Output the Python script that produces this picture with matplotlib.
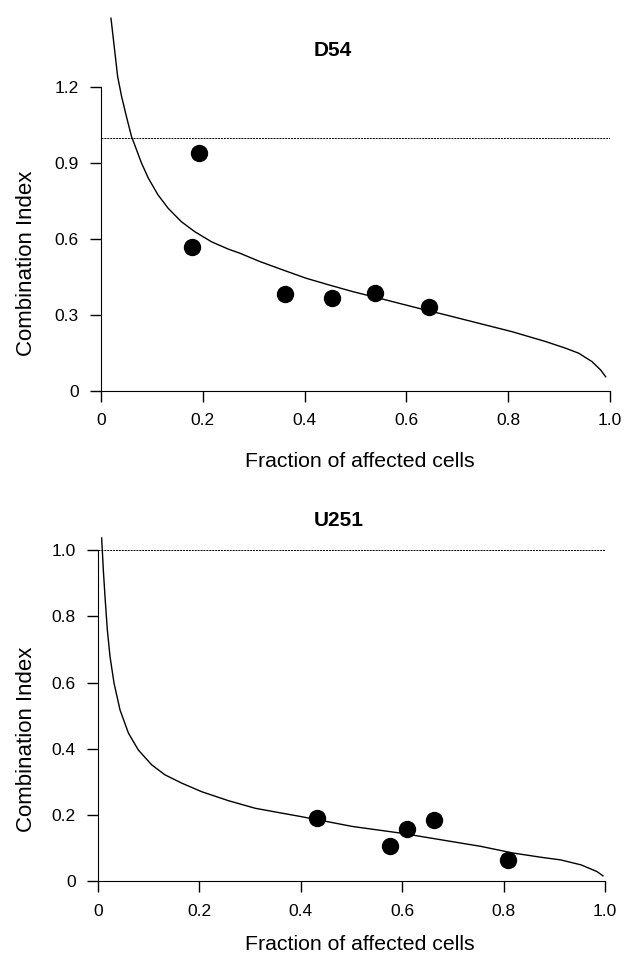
import numpy as np
import matplotlib.pyplot as plt

plt.rcParams['font.family'] = ['Liberation Sans', 'DejaVu Sans']

d54_fa = [0.192, 0.178, 0.361, 0.454, 0.539, 0.645]
d54_ci = [0.941, 0.567, 0.382, 0.366, 0.386, 0.333]
d54_curve_fa = [0.0196, 0.026, 0.0327, 0.0405, 0.050, 0.060, 0.070, 0.0797, 0.093,
                0.112, 0.132, 0.158, 0.184, 0.217, 0.250, 0.2725, 0.312, 0.357,
                0.403, 0.449, 0.495, 0.547, 0.625, 0.678, 0.743, 0.808, 0.874,
                0.913, 0.939, 0.965, 0.982, 0.992]
d54_curve_ci = [1.471, 1.359, 1.241, 1.162, 1.083, 1.004, 0.951, 0.899, 0.840,
                0.774, 0.721, 0.668, 0.629, 0.589, 0.560, 0.544, 0.511, 0.478,
                0.445, 0.418, 0.392, 0.366, 0.326, 0.300, 0.267, 0.234, 0.195,
                0.169, 0.149, 0.116, 0.083, 0.056]

# U251 panel
u251_fa = [0.432, 0.575, 0.609, 0.662, 0.809]
u251_ci = [0.191, 0.106, 0.158, 0.186, 0.065]
u251_curve_fa = [0.0072, 0.0105, 0.0138, 0.0184, 0.0237, 0.0316, 0.0434, 0.060,
                 0.0795, 0.106, 0.132, 0.165, 0.2045, 0.257, 0.310, 0.360, 0.400,
                 0.502, 0.597, 0.676, 0.755, 0.818, 0.874, 0.913, 0.953, 0.984,
                 0.996]
u251_curve_ci = [1.037, 0.941, 0.860, 0.760, 0.679, 0.599, 0.518, 0.448,
                 0.397, 0.352, 0.322, 0.297, 0.271, 0.244, 0.221, 0.207, 0.196,
                 0.166, 0.146, 0.126, 0.106, 0.086, 0.073, 0.065, 0.050, 0.030,
                 0.017]

x_ticks = [0, 0.2, 0.4, 0.6, 0.8, 1.0]
x_labels = ["0", "0.2", "0.4", "0.6", "0.8", "1.0"]
d54_yticks = [0, 0.3, 0.6, 0.9, 1.2]
d54_ylabels = ["0", "0.3", "0.6", "0.9", "1.2"]
u251_yticks = [0, 0.2, 0.4, 0.6, 0.8, 1.0]
u251_ylabels = ["0", "0.2", "0.4", "0.6", "0.8", "1.0"]

fig = plt.figure(figsize=(6.25, 9.55), dpi=100)
ax1 = fig.add_axes([0.1616, 0.5906, 0.814, 0.3927])
ax2 = fig.add_axes([0.1568, 0.077, 0.8112, 0.3607])


def style(ax, fa, ci, cfa, cci, yticks, ylabels, ytop, ylab_pos, xlab_pos):
    ax.plot([0, 1.0], [1.0, 1.0], color='black', lw=0.7, ls=(0, (2, 1)))
    ax.plot(cfa, cci, color='black', lw=1.0, clip_on=False)
    ax.plot(fa, ci, 'o', color='black', ms=11.5, clip_on=False)
    ax.set_xlim(0, 1.0)
    ax.set_ylim(0, ytop)
    ax.spines['top'].set_visible(False)
    ax.spines['right'].set_visible(False)
    ax.spines['left'].set_bounds(0, yticks[-1])
    ax.spines['bottom'].set_bounds(0, 1.0)
    ax.set_xticks(x_ticks)
    ax.set_xticklabels(x_labels)
    ax.set_yticks(yticks)
    ax.set_yticklabels(ylabels)
    ax.tick_params(direction='out', length=8, width=1, labelsize=12.5, pad=8)
    ax.set_ylabel("Combination Index", fontsize=16)
    ax.yaxis.set_label_coords(*ylab_pos)
    ax.set_xlabel("Fraction of affected cells", fontsize=15.3)
    ax.xaxis.set_label_coords(*xlab_pos)


style(ax1, d54_fa, d54_ci, d54_curve_fa, d54_curve_ci, d54_yticks, d54_ylabels,
      1.48, (-0.126, 0.341), (0.508, -0.163))
style(ax2, u251_fa, u251_ci, u251_curve_fa, u251_curve_ci, u251_yticks, u251_ylabels,
      1.04, (-0.121, 0.414), (0.517, -0.155))

fig.text(333 / 625, 1 - 50.5 / 955, "D54", ha='center', va='center',
         fontsize=15, fontweight='bold')
fig.text(339 / 625, 1 - 520 / 955, "U251", ha='center', va='center',
         fontsize=15, fontweight='bold')

fig.savefig("out.png", dpi=100)
